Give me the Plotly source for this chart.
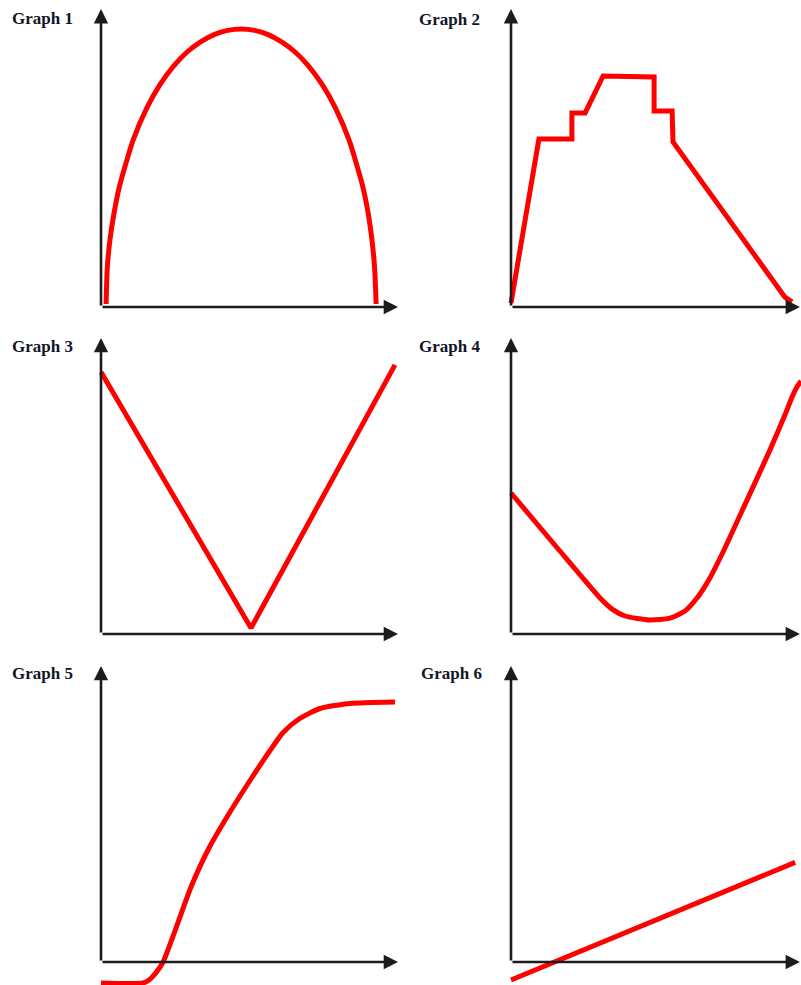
import plotly.graph_objects as go

# Curve values, in axis units (1 unit = 30 px on screen), origin at the axis corner
g1_x = [0.17, 0.21, 0.3, 0.44, 0.62, 1.07, 1.52, 1.97, 2.42, 2.87, 3.32, 3.77, 4.22, 4.67,
        5.12, 5.57, 6.02, 6.47, 6.92, 7.37, 7.82, 8.27, 8.72, 8.9, 9.03, 9.12, 9.17]
g1_y = [0.1, 1.31, 2.25, 3.16, 4.04, 5.56, 6.62, 7.42, 8.03, 8.5, 8.84, 9.08, 9.22, 9.27,
        9.22, 9.08, 8.84, 8.5, 8.03, 7.42, 6.62, 5.56, 4.04, 3.16, 2.25, 1.31, 0.1]

g2_x = [0, 0.93, 2.03, 2.03, 2.47, 3.07, 4.77, 4.77, 5.37, 5.4, 9.13, 9.37]
g2_y = [0.13, 5.6, 5.6, 6.47, 6.47, 7.7, 7.67, 6.53, 6.53, 5.5, 0.33, 0.17]

g3_x = [0, 5.0, 9.8]
g3_y = [8.73, 0.2, 8.97]

g4_x = [0, 1.6, 2.97, 3.37, 3.8, 4.63, 5.3, 5.8, 6.2, 6.63, 7.1, 7.87, 8.63, 9.13, 9.37, 9.53, 9.67]
g4_y = [4.7, 2.8, 1.2, 0.83, 0.6, 0.47, 0.53, 0.77, 1.2, 1.87, 2.8, 4.47, 6.13, 7.3, 7.9, 8.23, 8.43]

g5_x = [0, 1.4, 1.6, 1.82, 2.07, 2.5, 3.0, 3.6, 4.3, 5.0, 5.6, 6.07, 6.6, 7.3, 8.3, 9.8]
g5_y = [-0.7, -0.7, -0.6, -0.37, 0, 1.13, 2.5, 3.8, 5.0, 6.1, 7.0, 7.65, 8.1, 8.45, 8.62, 8.67]

g6_x = [0, 9.47]
g6_y = [-0.6, 3.32]

titles = ['Graph 1', 'Graph 2', 'Graph 3', 'Graph 4', 'Graph 5', 'Graph 6']
curves = [(g1_x, g1_y, 'spline'), (g2_x, g2_y, 'linear'), (g3_x, g3_y, 'linear'),
          (g4_x, g4_y, 'spline'), (g5_x, g5_y, 'spline'), (g6_x, g6_y, 'linear')]

W, H = 801, 985
UNIT = 30.0
col_origin = [101, 511]
row_origin = [307, 634, 962]
col_dom = [(86, 410), (496, 801)]
row_dom = [(0, 322), (326, 652), (656, 985)]
x_tip = [9.9, 9.63]
y_tip = [9.93, 9.87, 9.87]
title_pos = [(10, 18), (417, 20), (10, 346), (417, 347), (10, 673), (419, 673)]

fig = go.Figure()
layout = {}
annotations = []

for i, (cx, cy, shape) in enumerate(curves):
    r, c = divmod(i, 2)
    n = '' if i == 0 else str(i + 1)
    ox, oy = col_origin[c], row_origin[r]
    L, R = col_dom[c]
    T, B = row_dom[r]
    layout['xaxis' + n] = dict(domain=[L / W, R / W], range=[(L - ox) / UNIT, (R - ox) / UNIT],
                               visible=False, fixedrange=True, anchor='y' + n)
    layout['yaxis' + n] = dict(domain=[1 - B / H, 1 - T / H], range=[(oy - B) / UNIT, (oy - T) / UNIT],
                               visible=False, fixedrange=True, anchor='x' + n)

    fig.add_trace(go.Scatter(x=cx, y=cy, mode='lines', xaxis='x' + n, yaxis='y' + n,
                             line=dict(color='#ff0000', width=5, shape=shape, smoothing=0.6),
                             hoverinfo='skip', showlegend=False))

    # axes with arrowheads
    for tx, ty in [(x_tip[c], 0), (0, y_tip[r])]:
        annotations.append(dict(x=tx, y=ty, ax=0, ay=0, xref='x' + n, yref='y' + n,
                                axref='x' + n, ayref='y' + n, text='', showarrow=True,
                                arrowhead=2, arrowsize=1.1, arrowwidth=2.6,
                                arrowcolor='#1c1c1c', standoff=0))

    tx, ty = title_pos[i]
    annotations.append(dict(x=tx / W, y=1 - ty / H, xref='paper', yref='paper',
                            xanchor='left', yanchor='middle', showarrow=False,
                            text='<b>' + titles[i] + '</b>',
                            font=dict(family='Liberation Serif', size=17, color='#141428')))

fig.update_layout(**layout)
fig.update_layout(
    width=W, height=H,
    margin=dict(l=0, r=0, t=0, b=0),
    plot_bgcolor='white', paper_bgcolor='white',
    showlegend=False,
    annotations=annotations,
)

fig.write_html('out.html', config={'displayModeBar': False},
               post_script="document.body.style.margin='0';document.body.style.overflow='hidden';")
